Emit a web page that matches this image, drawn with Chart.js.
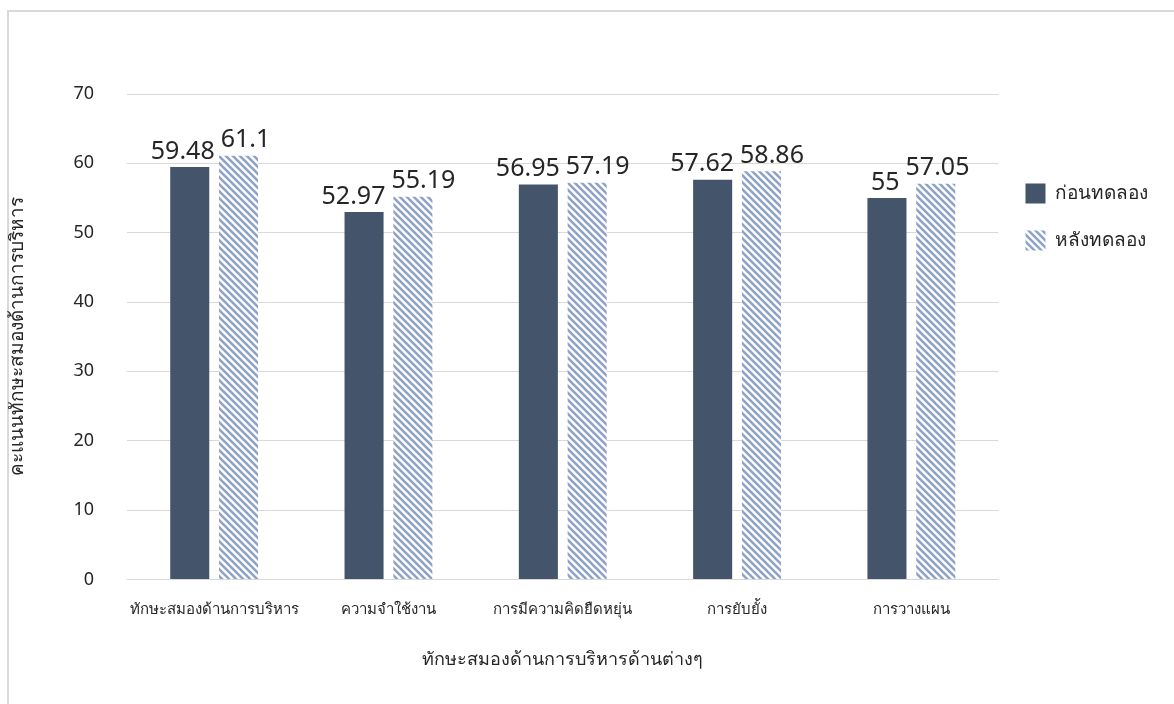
<!DOCTYPE html>
<html>
<head>
<meta charset="utf-8">
<script src="https://cdn.jsdelivr.net/npm/chart.js@4/dist/chart.umd.min.js"></script>
<style>
    html, body { margin: 0; padding: 0; background: #fff; }
    #wrap { position: relative; width: 1174px; height: 704px; overflow: hidden; }
    #frame { position: absolute; left: 7px; top: 10px; width: 1200px; height: 720px; border: 2px solid #d9d9d9; box-sizing: border-box; }
    canvas { position: absolute; left: 0; top: 0; }
</style>
</head>
<body>
<div id="wrap">
    <div id="frame"></div>
    <canvas id="myChart" width="1174" height="704"></canvas>
</div>
<script>
const categorias = [
    "ทักษะสมองด้านการบริหาร",
    "ความจำใช้งาน",
    "การมีความคิดยืดหยุ่น",
    "การยับยั้ง",
    "การวางแผน"
];
const antes = [59.48, 52.97, 56.95, 57.62, 55];
const despues = [61.1, 55.19, 57.19, 58.86, 57.05];
const serieNombres = ["ก่อนทดลอง", "หลังทดลอง"];

const fuente = "'Noto Sans', 'Tahoma', sans-serif";
const darkColor = "#44546a";
const stripeColor = "#8ea3c7";

function makeStripes() {
    const s = 7;
    const c = document.createElement("canvas");
    c.width = s;
    c.height = s;
    const g = c.getContext("2d");
    g.fillStyle = "#fff";
    g.fillRect(0, 0, s, s);
    g.strokeStyle = stripeColor;
    g.lineWidth = 2.6;
    g.beginPath();
    g.moveTo(-s, -s); g.lineTo(2 * s, 2 * s);
    g.moveTo(-s, 0); g.lineTo(s, 2 * s);
    g.moveTo(0, -s); g.lineTo(2 * s, s);
    g.stroke();
    return g.createPattern(c, "repeat");
}
const rayas = makeStripes();

// etiquetas encima de las barras, separadas si se pisan
const etiquetas = {
    id: "etiquetas",
    afterDatasetsDraw(chart) {
        const ctx = chart.ctx;
        ctx.save();
        ctx.font = "25px " + fuente;
        ctx.fillStyle = "#262626";
        ctx.textAlign = "center";
        ctx.textBaseline = "bottom";
        const m0 = chart.getDatasetMeta(0).data;
        const m1 = chart.getDatasetMeta(1).data;
        const d0 = chart.data.datasets[0].data;
        const d1 = chart.data.datasets[1].data;
        m0.forEach((bar, j) => {
            const t0 = String(d0[j]);
            const t1 = String(d1[j]);
            const w0 = ctx.measureText(t0).width;
            const w1 = ctx.measureText(t1).width;
            let x0 = bar.x;
            let x1 = m1[j].x;
            const overlap = (x0 + w0 / 2 + 6) - (x1 - w1 / 2);
            if (overlap > 0) {
                x0 -= overlap / 2;
                x1 += overlap / 2;
            }
            ctx.fillText(t0, x0, bar.y - 3);
            ctx.fillText(t1, x1, m1[j].y - 3);
        });
        ctx.restore();
    }
};

new Chart(document.getElementById("myChart"), {
    type: "bar",
    data: {
        labels: categorias,
        datasets: [
            {
                label: serieNombres[0],
                data: antes,
                backgroundColor: darkColor,
                categoryPercentage: 0.56,
                barPercentage: 0.8
            },
            {
                label: serieNombres[1],
                data: despues,
                backgroundColor: rayas,
                categoryPercentage: 0.56,
                barPercentage: 0.8
            }
        ]
    },
    options: {
        responsive: false,
        animation: false,
        layout: { padding: { top: 94, left: 0, right: 16, bottom: 29 } },
        scales: {
            x: {
                grid: { display: false },
                border: { color: "#d9d9d9", width: 1 },
                ticks: {
                    color: "#262626",
                    font: { family: fuente, size: 15 },
                    padding: 13,
                    maxRotation: 0,
                    minRotation: 0,
                    autoSkip: false
                },
                title: {
                    display: true,
                    text: "ทักษะสมองด้านการบริหารด้านต่างๆ",
                    color: "#262626",
                    font: { family: fuente, size: 18 },
                    padding: { top: 18 }
                }
            },
            y: {
                min: 0,
                max: 70,
                afterFit(scale) { scale.width = 127; },
                ticks: { stepSize: 10, color: "#262626", font: { family: fuente, size: 18 }, padding: 33 },
                grid: { color: "#d9d9d9", drawTicks: false },
                border: { display: false },
                title: {
                    display: true,
                    text: "คะแนนทักษะสมองด้านการบริหาร",
                    color: "#262626",
                    font: { family: fuente, size: 19 },
                    padding: { top: 6, bottom: 0 }
                }
            }
        },
        plugins: {
            legend: {
                position: "right",
                align: "start",
                title: { display: true, text: " ", padding: { top: 48 } },
                labels: {
                    color: "#262626",
                    font: { family: fuente, size: 19 },
                    boxWidth: 20,
                    boxHeight: 20,
                    padding: 27
                }
            },
            tooltip: { enabled: false }
        }
    },
    plugins: [etiquetas]
});
</script>
</body>
</html>
